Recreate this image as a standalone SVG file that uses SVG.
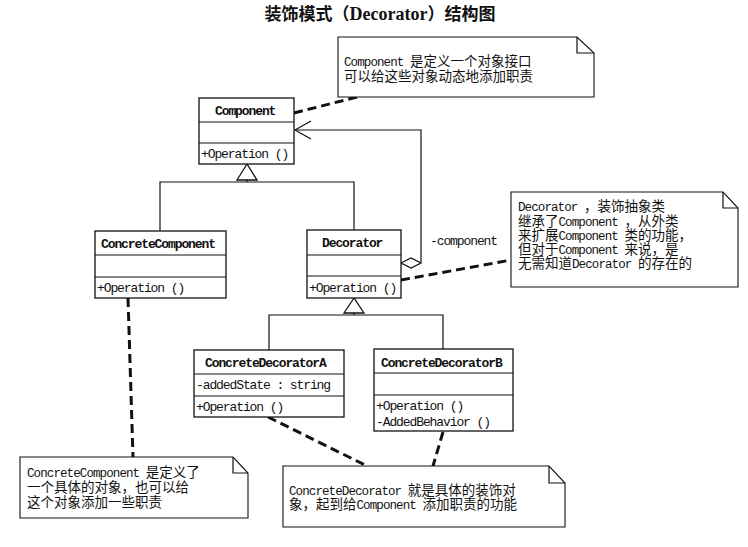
<svg xmlns="http://www.w3.org/2000/svg" width="748" height="547" viewBox="0 0 748 547">
<style>
.bg{fill:#fff}
.box{fill:#fff;stroke:#111;stroke-width:1.3}
.div{stroke:#111;stroke-width:1.2}
.ln{fill:none;stroke:#111;stroke-width:1.2}
.tri{fill:#fff;stroke:#111;stroke-width:1.3}
.dash{fill:none;stroke:#111;stroke-width:3;stroke-dasharray:9 5}
.note{fill:#fff;stroke:#111;stroke-width:1.1}
.cls{font-family:"Liberation Mono","Noto Sans CJK SC",monospace;font-size:13px;font-weight:bold;letter-spacing:-1.1px;fill:#111}
.mem{font-family:"Liberation Mono","Noto Sans CJK SC",monospace;font-size:13px;letter-spacing:-1.1px;fill:#111}
.nt{font-family:"Noto Sans CJK SC",sans-serif;font-size:13.5px;fill:#111}
.l{font-family:"Liberation Mono",monospace;font-size:12.5px;letter-spacing:-0.9px}
.title{font-family:"Noto Sans CJK SC",sans-serif;font-size:17px;font-weight:bold;fill:#111}
.tl{font-family:"Liberation Serif",serif;font-size:18px;font-weight:bold}
</style>
<rect class="bg" x="0" y="0" width="748" height="547"/>
<text class="title" x="380" y="20" text-anchor="middle">装饰模式（<tspan class="tl">Decorator</tspan>）结构图</text>

<g id="connectors">
  <!-- generalization to Component -->
  <polygon class="tri" points="247,164 237,180 257,180"/>
  <path class="ln" d="M247,180 V182 M160,231 V182 H354 V230"/>
  <!-- generalization to Decorator -->
  <polygon class="tri" points="354,298 344,313 364,313"/>
  <path class="ln" d="M354,313 V315 M269,350 V315 H443 V349"/>
  <!-- aggregation -->
  <path class="ln" d="M421,262 V130 H295"/>
  <path class="ln" d="M311,121 L295,130 L311,139"/>
  <polygon class="tri" points="401,263 411,258 421,263 411,268"/>
  <text class="mem" x="430" y="245">-component</text>
  <!-- note links -->
  <line class="dash" x1="294" y1="113" x2="357" y2="97"/>
  <line class="dash" x1="401" y1="280" x2="511" y2="260"/>
  <line class="dash" x1="128" y1="298" x2="133" y2="457"/>
  <line class="dash" x1="268" y1="417" x2="367" y2="466"/>
  <line class="dash" x1="443" y1="432" x2="433" y2="466"/>
</g>

<g id="Component">
  <rect class="box" x="199" y="98" width="95" height="66"/>
  <line class="div" x1="199" y1="122" x2="294" y2="122"/>
  <line class="div" x1="199" y1="143" x2="294" y2="143"/>
  <text class="cls" x="215" y="115">Component</text>
  <text class="mem" x="201" y="158">+Operation ()</text>
</g>

<g id="ConcreteComponent">
  <rect class="box" x="95" y="231" width="131" height="67"/>
  <line class="div" x1="95" y1="255" x2="226" y2="255"/>
  <line class="div" x1="95" y1="277" x2="226" y2="277"/>
  <text class="cls" x="101" y="248">ConcreteComponent</text>
  <text class="mem" x="97" y="292">+Operation ()</text>
</g>

<g id="Decorator">
  <rect class="box" x="307" y="230" width="94" height="68"/>
  <line class="div" x1="307" y1="255" x2="401" y2="255"/>
  <line class="div" x1="307" y1="276" x2="401" y2="276"/>
  <text class="cls" x="322" y="247">Decorator</text>
  <text class="mem" x="309" y="292">+Operation ()</text>
</g>

<g id="ConcreteDecoratorA">
  <rect class="box" x="194" y="350" width="150" height="67"/>
  <line class="div" x1="194" y1="374" x2="344" y2="374"/>
  <line class="div" x1="194" y1="396" x2="344" y2="396"/>
  <text class="cls" x="205" y="367">ConcreteDecoratorA</text>
  <text class="mem" x="196" y="389">-addedState : string</text>
  <text class="mem" x="196" y="411">+Operation ()</text>
</g>

<g id="ConcreteDecoratorB">
  <rect class="box" x="374" y="349" width="139" height="82"/>
  <line class="div" x1="374" y1="373" x2="513" y2="373"/>
  <line class="div" x1="374" y1="395" x2="513" y2="395"/>
  <text class="cls" x="381" y="367">ConcreteDecoratorB</text>
  <text class="mem" x="376" y="410">+Operation ()</text>
  <text class="mem" x="376" y="426">-AddedBehavior ()</text>
</g>

<g id="note-component">
  <path class="note" d="M338,37 H577 L594,53 V97 H338 Z"/>
  <path class="ln" d="M577,37 V53 H594"/>
  <text class="nt" x="344" y="66"><tspan class="l">Component </tspan>是定义一个对象接口</text>
  <text class="nt" x="344" y="81">可以给这些对象动态地添加职责</text>
</g>

<g id="note-decorator">
  <path class="note" d="M511,192 H723 L738,208 V287 H511 Z"/>
  <path class="ln" d="M723,192 V208 H738"/>
  <text class="nt" x="518" y="211"><tspan class="l">Decorator </tspan>，装饰抽象类</text>
  <text class="nt" x="518" y="226">继承了<tspan class="l">Component </tspan>，从外类</text>
  <text class="nt" x="518" y="240">来扩展<tspan class="l">Component </tspan>类的功能，</text>
  <text class="nt" x="518" y="254">但对于<tspan class="l">Component </tspan>来说，是</text>
  <text class="nt" x="518" y="268">无需知道<tspan class="l">Decorator </tspan>的存在的</text>
</g>

<g id="note-concretecomponent">
  <path class="note" d="M20,457 H233 L248,473 V518 H20 Z"/>
  <path class="ln" d="M233,457 V473 H248"/>
  <text class="nt" x="27" y="477"><tspan class="l">ConcreteComponent </tspan>是定义了</text>
  <text class="nt" x="27" y="492">一个具体的对象，也可以给</text>
  <text class="nt" x="27" y="507">这个对象添加一些职责</text>
</g>

<g id="note-concretedecorator">
  <path class="note" d="M283,466 H549 L565,483 V527 H283 Z"/>
  <path class="ln" d="M549,466 V483 H565"/>
  <text class="nt" x="289" y="495"><tspan class="l">ConcreteDecorator </tspan>就是具体的装饰对</text>
  <text class="nt" x="289" y="509">象，起到给<tspan class="l">Component </tspan>添加职责的功能</text>
</g>
</svg>
